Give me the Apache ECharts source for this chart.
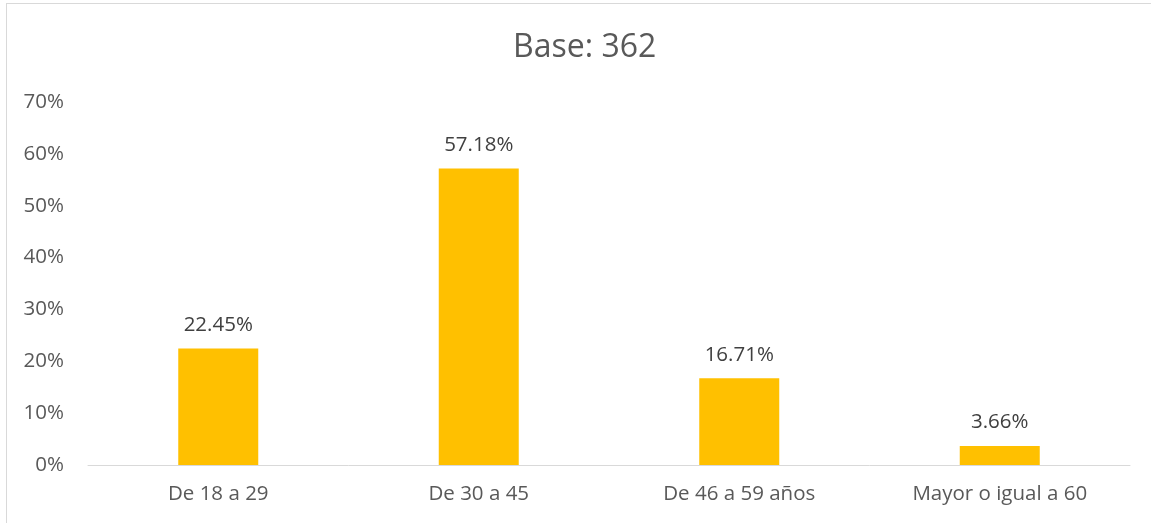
<!DOCTYPE html>
<html>
<head>
<meta charset="utf-8">
<script src="https://cdn.jsdelivr.net/npm/echarts@6/dist/echarts.min.js"></script>
<style>
  html, body { margin: 0; padding: 0; background: #fff; }
  #frame { position: absolute; left: 6px; top: 3px; width: 1160px; height: 540px; border: 1px solid #d9d9d9; box-sizing: border-box; }
  #chart { position: absolute; left: 0; top: 0; width: 1151px; height: 523px; }
</style>
</head>
<body>
<div id="frame"></div>
<div id="chart"></div>
<script>
const categories = ['De 18 a 29', 'De 30 a 45', 'De 46 a 59 años', 'Mayor o igual a 60'];
const values = [22.45, 57.18, 16.71, 3.66];
const titleText = 'Base: 362';

const font = '"Open Sans", "Noto Sans", sans-serif';
const chart = echarts.init(document.getElementById('chart'));
chart.setOption({
  animation: false,
  title: {
    text: titleText,
    left: 508,
    top: 27,
    textStyle: { fontFamily: font, fontSize: 32, fontWeight: 'normal', color: '#595959' }
  },
  grid: { left: 88, right: 21, top: 102, bottom: 58 },
  xAxis: {
    type: 'category',
    data: categories,
    axisLine: { lineStyle: { color: '#d9d9d9', width: 1 } },
    axisTick: { show: false },
    axisLabel: { fontFamily: font, fontSize: 20.5, color: '#595959', margin: 19 }
  },
  yAxis: {
    type: 'value',
    min: 0,
    max: 70,
    interval: 10,
    splitLine: { show: false },
    axisLine: { show: false },
    axisTick: { show: false },
    axisLabel: { fontFamily: font, fontSize: 20.5, color: '#595959', margin: 24, formatter: '{value}%' }
  },
  series: [{
    type: 'bar',
    data: values,
    barWidth: 80,
    itemStyle: { color: '#FFC000' },
    label: {
      show: true,
      position: 'top',
      distance: 13,
      fontFamily: font,
      fontSize: 20.5,
      color: '#404040',
      formatter: p => p.value.toFixed(2) + '%'
    }
  }]
});
</script>
</body>
</html>
